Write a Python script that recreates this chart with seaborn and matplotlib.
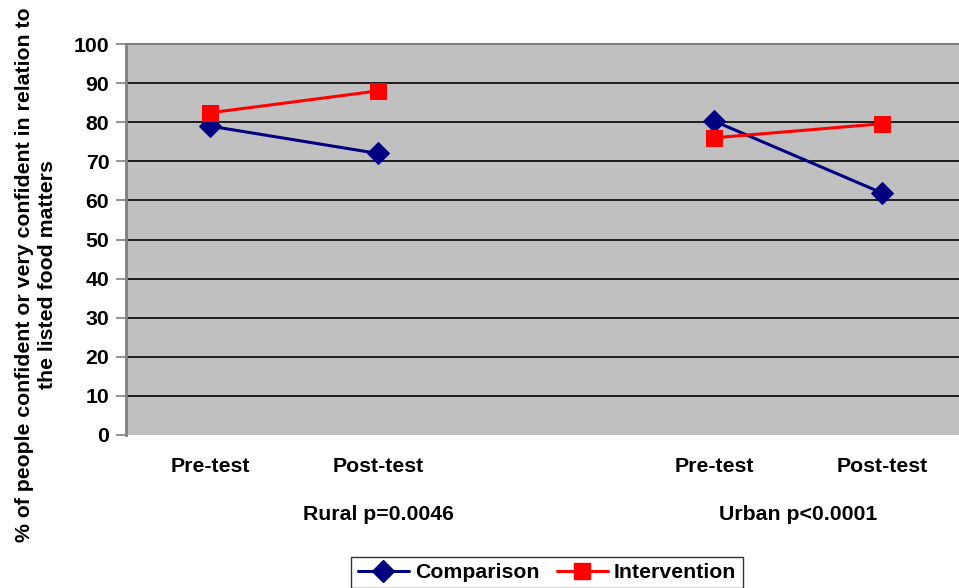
import matplotlib
matplotlib.use("Agg")
import matplotlib.pyplot as plt
import seaborn as sns
import pandas as pd
from matplotlib.lines import Line2D

# ---- data ----
tests = ["Pre-test", "Post-test"]
groups = ["Rural p=0.0046", "Urban p<0.0001"]
comparison_rural = [79.0, 72.0]
intervention_rural = [82.4, 88.0]
comparison_urban = [80.3, 61.9]
intervention_urban = [76.0, 79.6]
yticks = [0, 10, 20, 30, 40, 50, 60, 70, 80, 90, 100]

sns.set_theme(style="white")
plt.rcParams["font.family"] = ["Liberation Sans", "DejaVu Sans"]
plt.rcParams["font.weight"] = "bold"
plt.rcParams["text.color"] = "black"
plt.rcParams["xtick.color"] = "black"
plt.rcParams["ytick.color"] = "black"
plt.rcParams["xtick.labelcolor"] = "black"
plt.rcParams["ytick.labelcolor"] = "black"

FS = 15.3

# positions: rural 0,1 ; gap 2 ; urban 3,4
pos_rural = [0, 1]
pos_urban = [3, 4]
rows = []
for p, v in zip(pos_rural, comparison_rural):
    rows.append(dict(pos=p, value=v, series="Comparison", grp="Rural"))
for p, v in zip(pos_rural, intervention_rural):
    rows.append(dict(pos=p, value=v, series="Intervention", grp="Rural"))
for p, v in zip(pos_urban, comparison_urban):
    rows.append(dict(pos=p, value=v, series="Comparison", grp="Urban"))
for p, v in zip(pos_urban, intervention_urban):
    rows.append(dict(pos=p, value=v, series="Intervention", grp="Urban"))
df = pd.DataFrame(rows)

W, H = 959, 588
fig = plt.figure(figsize=(W / 100, H / 100), dpi=100)
ax = fig.add_axes([126 / W, (H - 435) / H, 840 / W, 391 / H])
ax.set_facecolor("#C0C0C0")

styles = {
    "Comparison": dict(color="#000080", marker="D", markersize=11),
    "Intervention": dict(color="#FF0000", marker="s", markersize=11),
}
for (grp, ser), sub in df.groupby(["grp", "series"]):
    st = styles[ser]
    sns.lineplot(data=sub, x="pos", y="value", ax=ax, color=st["color"],
                 marker=st["marker"], markersize=st["markersize"],
                 markeredgecolor=st["color"], linewidth=2.2, legend=False,
                 estimator=None, zorder=3)

ax.set_xlim(-0.5, 4.5)
ax.set_ylim(0, 100)
ax.set_yticks(yticks)
ax.set_yticklabels([str(t) for t in yticks], fontsize=FS, fontweight="bold")
for t in yticks[1:]:
    ax.axhline(t, color="#000000", linewidth=1.2, zorder=1)

ax.set_xticks(pos_rural + pos_urban)
ax.set_xticklabels(tests + tests, fontsize=FS, fontweight="bold")
ax.tick_params(axis="x", length=0, pad=16)
ax.tick_params(axis="y", length=7, width=1.2, color="#808080", direction="out",
               left=True, pad=5)
ax.set_xlabel("")
ax.set_ylabel("")

for s in ["right", "bottom"]:
    ax.spines[s].set_visible(False)
ax.spines["left"].set_color("#808080")
ax.spines["left"].set_linewidth(2.0)
ax.spines["top"].set_color("#808080")
ax.spines["top"].set_linewidth(1.5)

# group labels
trans = ax.get_xaxis_transform()
ax.text(1, -(515 - 435) / 391, groups[0], transform=trans, ha="center", va="center",
        fontsize=FS, fontweight="bold")
ax.text(3.5, -(515 - 435) / 391, groups[1], transform=trans, ha="center", va="center",
        fontsize=FS, fontweight="bold")

fig.text(36 / W, 1 - 275 / H,
         "% of people confident or very confident in relation to\nthe listed food matters",
         rotation=90, ha="center", va="center", fontsize=FS, fontweight="bold",
         multialignment="center", linespacing=1.3)

handles = [
    Line2D([], [], color="#000080", marker="D", markersize=11, linewidth=2.2),
    Line2D([], [], color="#FF0000", marker="s", markersize=11, linewidth=2.2),
]
leg = fig.legend(handles, ["Comparison", "Intervention"], loc="upper center",
                 bbox_to_anchor=(547 / W, 1 - 546 / H), ncol=2, frameon=True,
                 fancybox=False, edgecolor="#000000",
                 prop={"weight": "bold", "size": FS}, handlelength=2.4,
                 columnspacing=0.8, handletextpad=0.3, borderpad=0.3)
leg.get_frame().set_linewidth(1.0)

fig.savefig("out.png", dpi=100)
